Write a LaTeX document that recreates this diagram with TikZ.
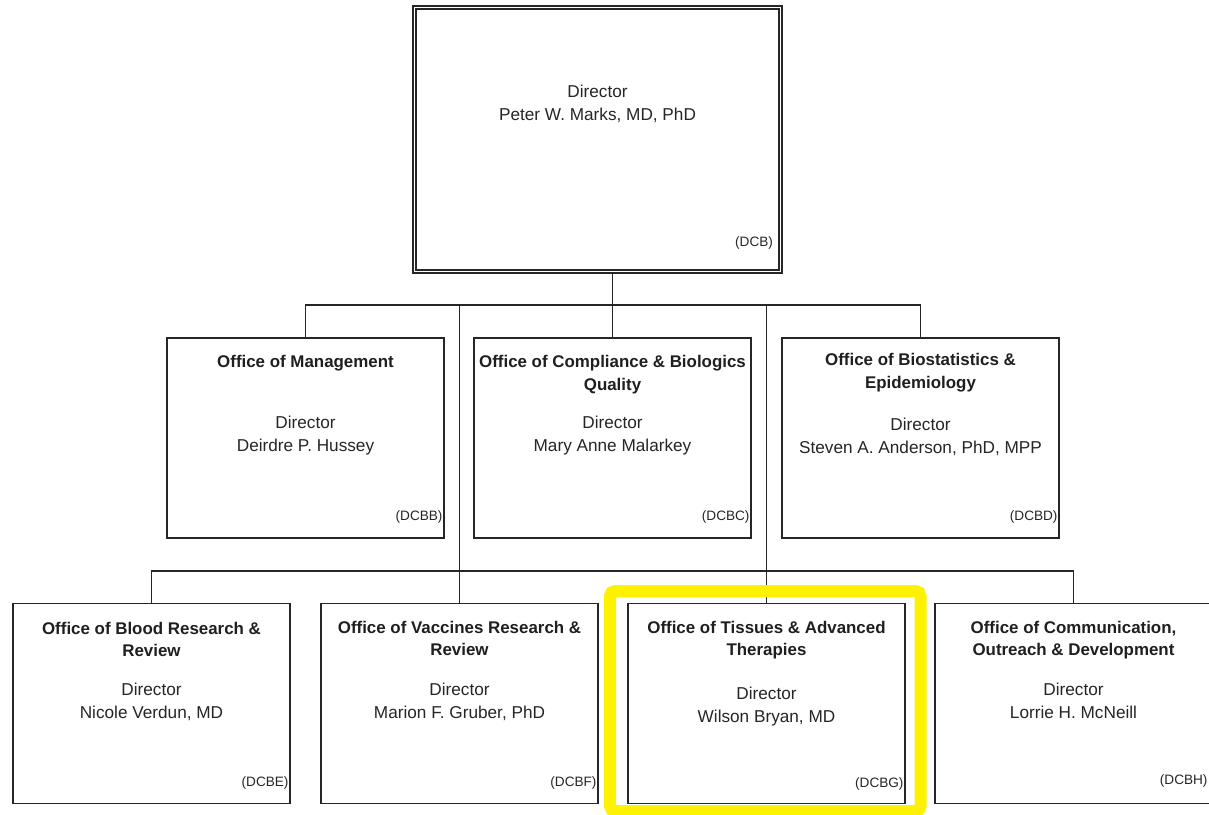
\documentclass[tikz,border=0pt]{standalone}
\usepackage{fontspec}
\setmainfont{Liberation Sans}
\begin{document}
\begin{tikzpicture}[x=1pt,y=-1pt,
  box/.style={draw=black!85,line width=1.4pt,minimum width=277pt,minimum height=200pt,inner sep=0pt},
  topbox/.style={draw=black!85,line width=1.3pt,double=white,double distance=1.6pt,minimum width=366pt,minimum height=264pt,inner sep=0pt},
  ttl/.style={anchor=north,align=center,inner sep=0pt,font=\fontsize{16.9}{22.5}\selectfont\bfseries,text=black!88},
  dir/.style={anchor=north,align=center,inner sep=0pt,font=\fontsize{17.2}{23}\selectfont,text=black!85},
  code/.style={anchor=base east,inner sep=0pt,font=\fontsize{13.6}{16}\selectfont,text=black!85},
  conn/.style={draw=black!85,line width=1.4pt},
  hilite/.style={draw=yellow,line width=12pt,rounded corners=5pt}
]
\useasboundingbox (0,0) rectangle (1209,814);
\clip (0,0) rectangle (1209,814);
\fill[white] (0,0) rectangle (1209,814);

% top box
\node[topbox] (dcb) at (597.5,139.5) {};
\node[dir] (dcbt) at ([yshift=-78pt]dcb.north) {Director\\Peter W. Marks, MD, PhD};
\node[code] (dcbc) at ([xshift=-8pt,yshift=26pt]dcb.south east) {(DCB)};

% row 2
\node[box] (mgmt) at (305.5,438) {};
\node[box] (comp) at (612.5,438) {};
\node[box] (bio)  at (920.5,438) {};

\node[ttl] (mgmtt) at ([yshift=-18pt]mgmt.north) {Office of Management};
\node[dir] (mgmtd) at ([yshift=-79pt]mgmt.north) {Director\\Deirdre P. Hussey};
\node[code] (mgmtc) at ([xshift=-2pt,yshift=18pt]mgmt.south east) {(DCBB)};

\node[ttl] (compt) at ([yshift=-18pt]comp.north) {Office of Compliance \& Biologics\\Quality};
\node[dir] (compd) at ([yshift=-79pt]comp.north) {Director\\Mary Anne Malarkey};
\node[code] (compc) at ([xshift=-2pt,yshift=18pt]comp.south east) {(DCBC)};

\node[ttl] (biot) at ([yshift=-16pt]bio.north) {Office of Biostatistics \&\\Epidemiology};
\node[dir] (biod) at ([yshift=-81pt]bio.north) {Director\\Steven A. Anderson, PhD, MPP};
\node[code] (bioc) at ([xshift=-2pt,yshift=18pt]bio.south east) {(DCBD)};

% row 3
\node[box] (blood) at (151.5,703.5) {};
\node[box] (vac)   at (459.5,703.5) {};
\node[box] (tis)   at (766.5,703.5) {};
\node[box] (comm)  at (1073.5,703.5) {};

\node[ttl] (bloodt) at ([yshift=-19pt]blood.north) {Office of Blood Research \&\\Review};
\node[dir] (bloodd) at ([yshift=-80pt]blood.north) {Director\\Nicole Verdun, MD};
\node[code] (bloodc) at ([xshift=-2pt,yshift=18pt]blood.south east) {(DCBE)};

\node[ttl] (vact) at ([yshift=-18pt]vac.north) {Office of Vaccines Research \&\\Review};
\node[dir] (vacd) at ([yshift=-80pt]vac.north) {Director\\Marion F. Gruber, PhD};
\node[code] (vacc) at ([xshift=-2pt,yshift=18pt]vac.south east) {(DCBF)};

\node[ttl] (tist) at ([yshift=-18pt]tis.north) {Office of Tissues \& Advanced\\Therapies};
\node[dir] (tisd) at ([yshift=-84pt]tis.north) {Director\\Wilson Bryan, MD};
\node[code] (tisc) at ([xshift=-2pt,yshift=17pt]tis.south east) {(DCBG)};

\node[ttl] (commt) at ([yshift=-18pt]comm.north) {Office of Communication,\\Outreach \& Development};
\node[dir] (commd) at ([yshift=-80pt]comm.north) {Director\\Lorrie H. McNeill};
\node[code] (commc) at ([xshift=-5pt,yshift=20pt]comm.south east) {(DCBH)};

% connectors
\coordinate (j1) at (612.5,305);
\coordinate (a1) at (459.5,305);
\coordinate (a2) at (766.5,305);
\coordinate (j2) at (459.5,571);
\draw[conn] (dcb.south -| j1) -- (j1);
\draw[conn] (mgmt.north) |- (j1) -| (bio.north);
\draw[conn] (j1) -- (comp.north);
\draw[conn] (a1) -- (vac.north);
\draw[conn] (a2) -- (tis.north);
\draw[conn] (blood.north) |- (j2) -| (comm.north);

% highlight
\draw[hilite] (610,591) rectangle (920.5,811);
\end{tikzpicture}
\end{document}
